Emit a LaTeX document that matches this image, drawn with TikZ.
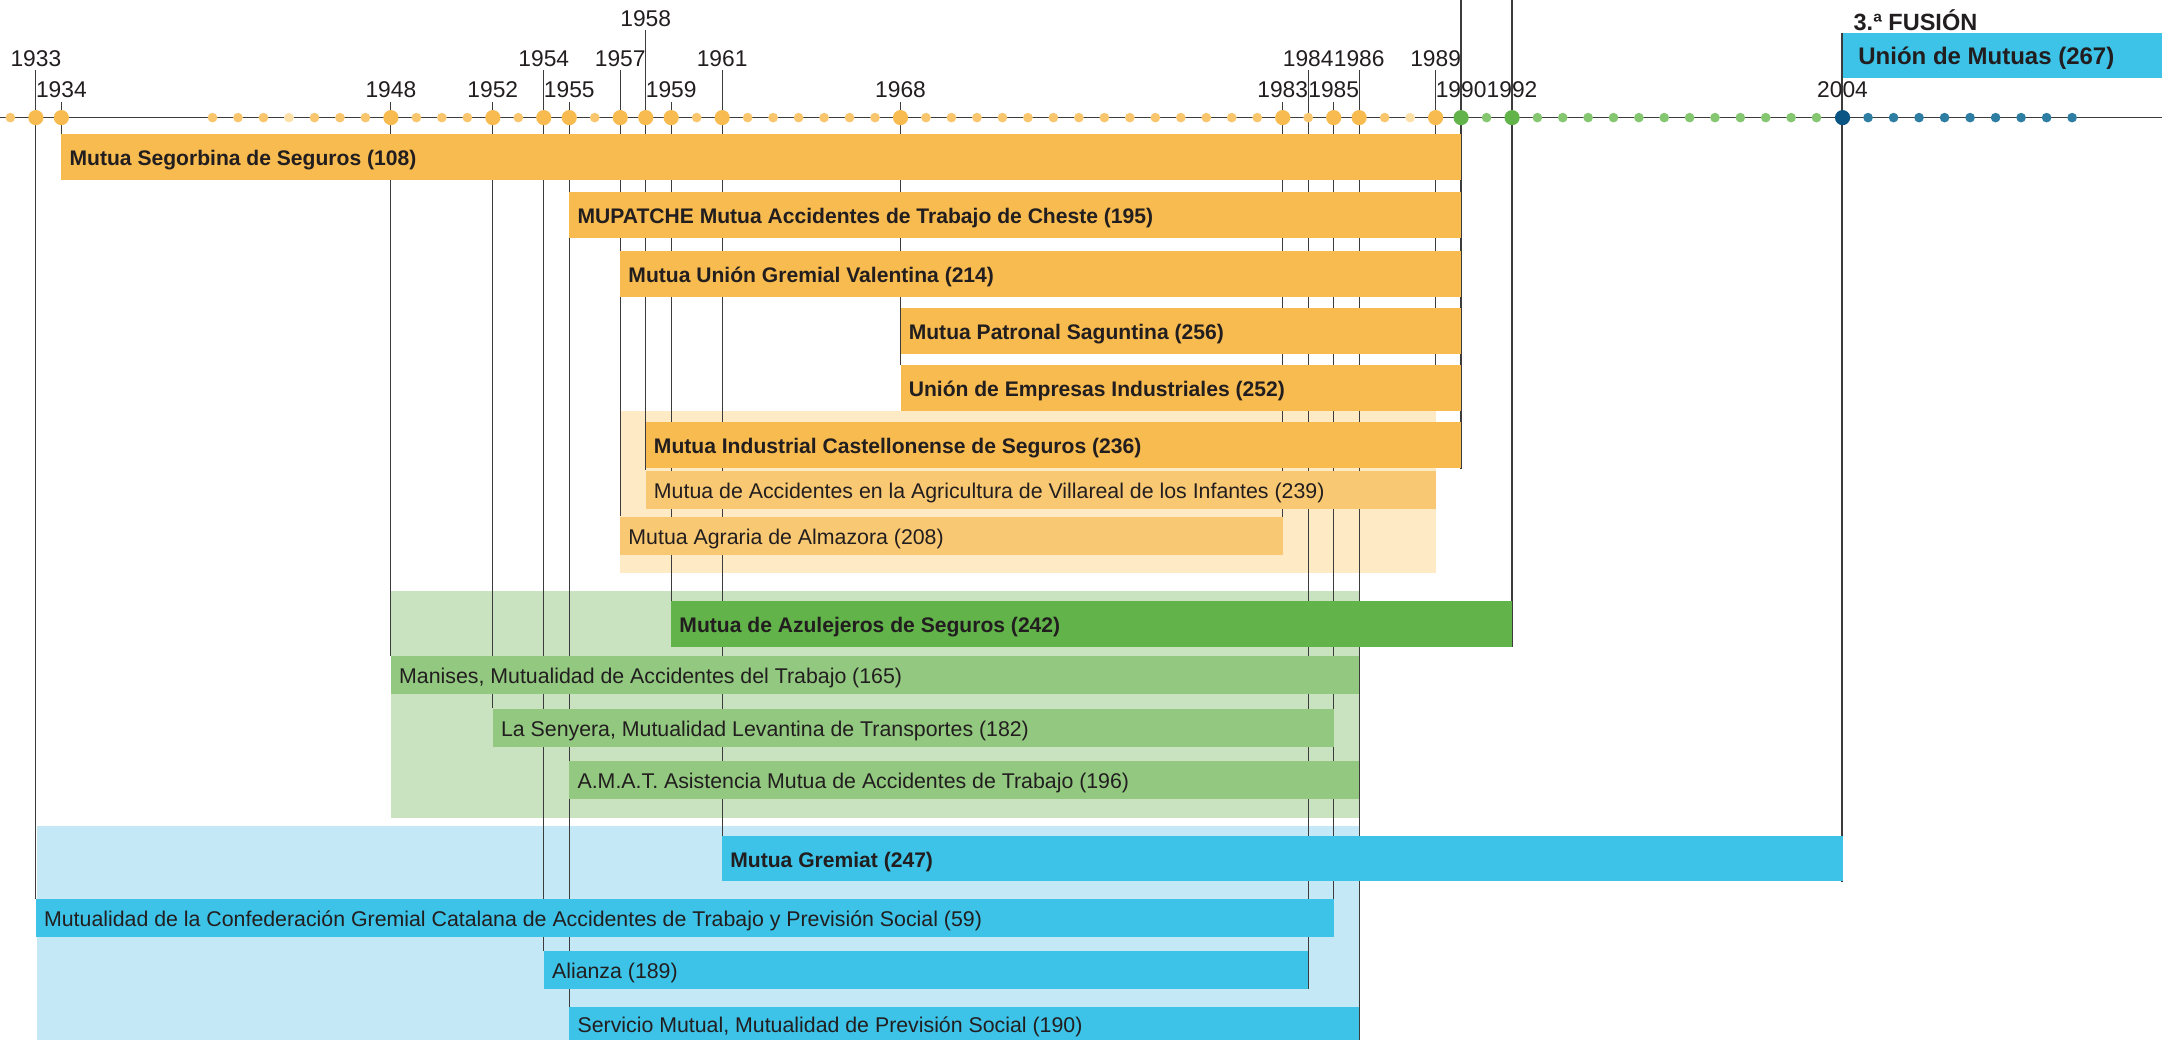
\documentclass[tikz,border=0pt]{standalone}
\usepackage{fontspec}
\setmainfont{Liberation Sans}
\usepackage{tikz}
\usetikzlibrary{positioning,fit,calc}
\definecolor{BarOrange}{HTML}{F7BB50}
\definecolor{BarOrangeLight}{HTML}{F9C872}
\definecolor{BackOrange}{HTML}{FEEBC5}
\definecolor{BarGreen}{HTML}{61B34A}
\definecolor{BarGreenLight}{HTML}{92C87F}
\definecolor{BackGreen}{HTML}{C9E3C1}
\definecolor{BarBlue}{HTML}{3CC3E7}
\definecolor{BackBlue}{HTML}{C4E8F6}
\definecolor{DotOrange}{HTML}{F9C66E}
\definecolor{DotOrangePale}{HTML}{FDE0A8}
\definecolor{DotGreen}{HTML}{85C671}
\definecolor{DotBlue}{HTML}{2E7DA2}
\definecolor{DotBlueDark}{HTML}{0A5583}
\definecolor{LineGrey}{HTML}{3C3C3C}
\definecolor{InkGrey}{HTML}{221E1F}
\pgfdeclarelayer{back}
\pgfdeclarelayer{lines}
\pgfsetlayers{back,lines,main}

\begin{document}
\begin{tikzpicture}[
  x=0.2mm, y=-0.2mm,
  font=\fontsize{8.8}{10}\selectfont,
  bigdot/.style={circle,inner sep=0pt,minimum size=2.2mm},
  smalldot/.style={circle,inner sep=0pt,minimum size=1.4mm},
  yearlab/.style={inner sep=0.5mm,font=\fontsize{9.4}{11}\selectfont,text=InkGrey},
  barbox/.style={inner sep=0pt,draw=none},
  barlab/.style={inner sep=0pt,anchor=west,text height=0.72em,text depth=0pt,text=InkGrey},
  boldlab/.style={barlab,font=\fontsize{8.7}{10}\selectfont\bfseries},
  yearline/.style={line width=0.45pt,draw=LineGrey},
  longline/.style={line width=0.9pt,draw=LineGrey},
  axisline/.style={line width=0.7pt,draw=LineGrey}
]
\useasboundingbox (0,0) rectangle (1568,754);

% time axis
\coordinate (axisL) at (0,85.3);
\coordinate (axisR) at (1568,85.3);
\draw[axisline] (axisL) -- (axisR);

% yearly dots
\node[smalldot,fill=DotOrange] (d1932) at (7.5,85.3) {};
\foreach \yr in {1941,1942,1943,1945,1946,1947,1949,1950,1951,1953,1956,1960,
    1962,1963,1964,1965,1966,1967,1969,1970,1971,1972,1973,1974,1975,1976,
    1977,1978,1979,1980,1981,1982,1984,1987} {
  \node[smalldot,fill=DotOrange] (d\yr) at ({283.5+18.48*(\yr-1948)},85.3) {};
}
\foreach \yr in {1944,1988} {
  \node[smalldot,fill=DotOrangePale] (d\yr) at ({283.5+18.48*(\yr-1948)},85.3) {};
}
\node[smalldot,fill=DotGreen] (d1991) at ({283.5+18.48*(1991-1948)},85.3) {};
\foreach \k in {1,...,12} {
  \node[smalldot,fill=DotGreen] (g\k) at ({1096.6+18.4*\k},85.3) {};
}
\foreach \k in {1,...,9} {
  \node[smalldot,fill=DotBlue] (b\k) at ({1336.3+18.5*\k},85.3) {};
}

% key years
\node[bigdot,fill=BarOrange] (d1933) at (26,85.3) {};
\node[bigdot,fill=BarOrange] (d1934) at (44.5,85.3) {};
\foreach \yr in {1948,1952,1954,1955,1957,1958,1959,1961,1968,1983,1985,1986,1989} {
  \node[bigdot,fill=BarOrange] (d\yr) at ({283.5+18.48*(\yr-1948)},85.3) {};
}
\foreach \yr in {1990,1992} {
  \node[bigdot,fill=BarGreen] (d\yr) at ({283.5+18.48*(\yr-1948)},85.3) {};
}
\node[bigdot,fill=DotBlueDark] (d2004) at (1336.3,85.3) {};

\foreach \yr/\yy in {1933/42.3,1934/65.3,1948/65.3,1952/65.3,1954/42.3,1955/65.3,
    1957/42.3,1958/13.3,1959/65.3,1961/42.3,1968/65.3,1983/65.3,1984/42.3,
    1985/65.3,1986/42.3,1989/42.3,1990/65.3,1992/65.3,2004/65.3} {
  \node[yearlab] (l\yr) at (d\yr.center |- 0,\yy) {\yr};
}

% group backgrounds
\begin{pgfonlayer}{back}
\node[barbox,fill=BackOrange,fit={(449.8,298) (1041.2,415.4)}] (backorange) {};
\node[barbox,fill=BackGreen,fit={(283.5,428.7) (985.8,593)}] (backgreen) {};
\node[barbox,fill=BackBlue,fit={(26.5,599) (985.8,754)}] (backblue) {};
\end{pgfonlayer}

% orange group
\node[barbox,fill=BarOrange,fit={(44.5,97.2) (1059.6,130.5)}] (segorbina) {};
\node[boldlab,right=1.2mm of segorbina.west] (tsegorbina) {Mutua Segorbina de Seguros (108)};
\node[barbox,fill=BarOrange,fit={(412.9,139) (1059.6,172.4)}] (mupatche) {};
\node[boldlab,right=1.2mm of mupatche.west] (tmupatche) {MUPATCHE Mutua Accidentes de Trabajo de Cheste (195)};
\node[barbox,fill=BarOrange,fit={(449.8,182) (1059.6,215.2)}] (gremialval) {};
\node[boldlab,right=1.2mm of gremialval.west] (tgremialval) {Mutua Unión Gremial Valentina (214)};
\node[barbox,fill=BarOrange,fit={(653.1,223.6) (1059.6,256.8)}] (saguntina) {};
\node[boldlab,right=1.2mm of saguntina.west] (tsaguntina) {Mutua Patronal Saguntina (256)};
\node[barbox,fill=BarOrange,fit={(653.1,264.7) (1059.6,297.9)}] (empresas) {};
\node[boldlab,right=1.2mm of empresas.west] (tempresas) {Unión de Empresas Industriales (252)};
\node[barbox,fill=BarOrange,fit={(468.3,305.8) (1059.6,339.7)}] (castellonense) {};
\node[boldlab,right=1.2mm of castellonense.west] (tcastellonense) {Mutua Industrial Castellonense de Seguros (236)};
\node[barbox,fill=BarOrangeLight,fit={(468.3,341.4) (1041.2,369)}] (villareal) {};
\node[barlab,right=1.2mm of villareal.west] (tvillareal) {Mutua de Accidentes en la Agricultura de Villareal de los Infantes (239)};
\node[barbox,fill=BarOrangeLight,fit={(449.8,374.7) (930.3,402.3)}] (almazora) {};
\node[barlab,right=1.2mm of almazora.west] (talmazora) {Mutua Agraria de Almazora (208)};

% green group
\node[barbox,fill=BarGreen,fit={(486.8,436) (1096.6,469)}] (azulejeros) {};
\node[boldlab,right=1.2mm of azulejeros.west] (tazulejeros) {Mutua de Azulejeros de Seguros (242)};
\node[barbox,fill=BarGreenLight,fit={(283.5,475.8) (985.8,503.3)}] (manises) {};
\node[barlab,right=1.2mm of manises.west] (tmanises) {Manises, Mutualidad de Accidentes del Trabajo (165)};
\node[barbox,fill=BarGreenLight,fit={(357.4,514) (967.3,541.5)}] (senyera) {};
\node[barlab,right=1.2mm of senyera.west] (tsenyera) {La Senyera, Mutualidad Levantina de Transportes (182)};
\node[barbox,fill=BarGreenLight,fit={(412.9,552) (985.8,579.3)}] (amat) {};
\node[barlab,right=1.2mm of amat.west] (tamat) {A.M.A.T. Asistencia Mutua de Accidentes de Trabajo (196)};

% blue group
\node[barbox,fill=BarBlue,fit={(523.7,606.4) (1336.3,639)}] (gremiat) {};
\node[boldlab,right=1.2mm of gremiat.west] (tgremiat) {Mutua Gremiat (247)};
\node[barbox,fill=BarBlue,fit={(26,652) (967.3,679.2)}] (catalana) {};
\node[barlab,right=1.2mm of catalana.west] (tcatalana) {Mutualidad de la Confederación Gremial Catalana de Accidentes de Trabajo y Previsión Social (59)};
\node[barbox,fill=BarBlue,fit={(394.4,689.8) (948.8,717)}] (alianza) {};
\node[barlab,right=1.2mm of alianza.west] (talianza) {Alianza (189)};
\node[barbox,fill=BarBlue,fit={(412.9,730.4) (985.8,754)}] (servicio) {};
\node[barlab,right=1.2mm of servicio.west] (tservicio) {Servicio Mutual, Mutualidad de Previsión Social (190)};

% third merger
\node[inner sep=0pt,anchor=west,font=\fontsize{9.7}{11}\selectfont\bfseries,text=InkGrey] (fusion) at (1344,15) {3.ª FUSIÓN};
\node[barbox,fill=BarBlue,fit={(1336.3,24.2) (1568,56.8)}] (unionbox) {};
\node[boldlab,font=\fontsize{9.9}{11}\selectfont\bfseries,right=2.3mm of unionbox.west] (tunion) {Unión de Mutuas (267)};

% year lines
\begin{pgfonlayer}{lines}
\foreach \yr/\tgt in {1933/catalana.north,1934/segorbina.north,1948/manises.north,
    1952/senyera.north,1954/alianza.north,1955/servicio.north,1957/almazora.north,
    1958/villareal.north,1959/azulejeros.north,1961/gremiat.north,1968/empresas.north,
    1983/almazora.south,1984/alianza.south,1985/catalana.south,1986/servicio.south,
    1989/backorange.north} {
  \draw[yearline] (l\yr.south) -- (l\yr.south |- \tgt);
}
\coordinate (top1990) at (d1990.center |- 0,0);
\coordinate (top1992) at (d1992.center |- 0,0);
\draw[longline] (top1990) -- (top1990 |- castellonense.south);
\draw[longline] (top1992) -- (top1992 |- azulejeros.south);
\draw[longline] (unionbox.north west) -- (unionbox.north west |- gremiat.south);
\end{pgfonlayer}

\end{tikzpicture}
\end{document}
